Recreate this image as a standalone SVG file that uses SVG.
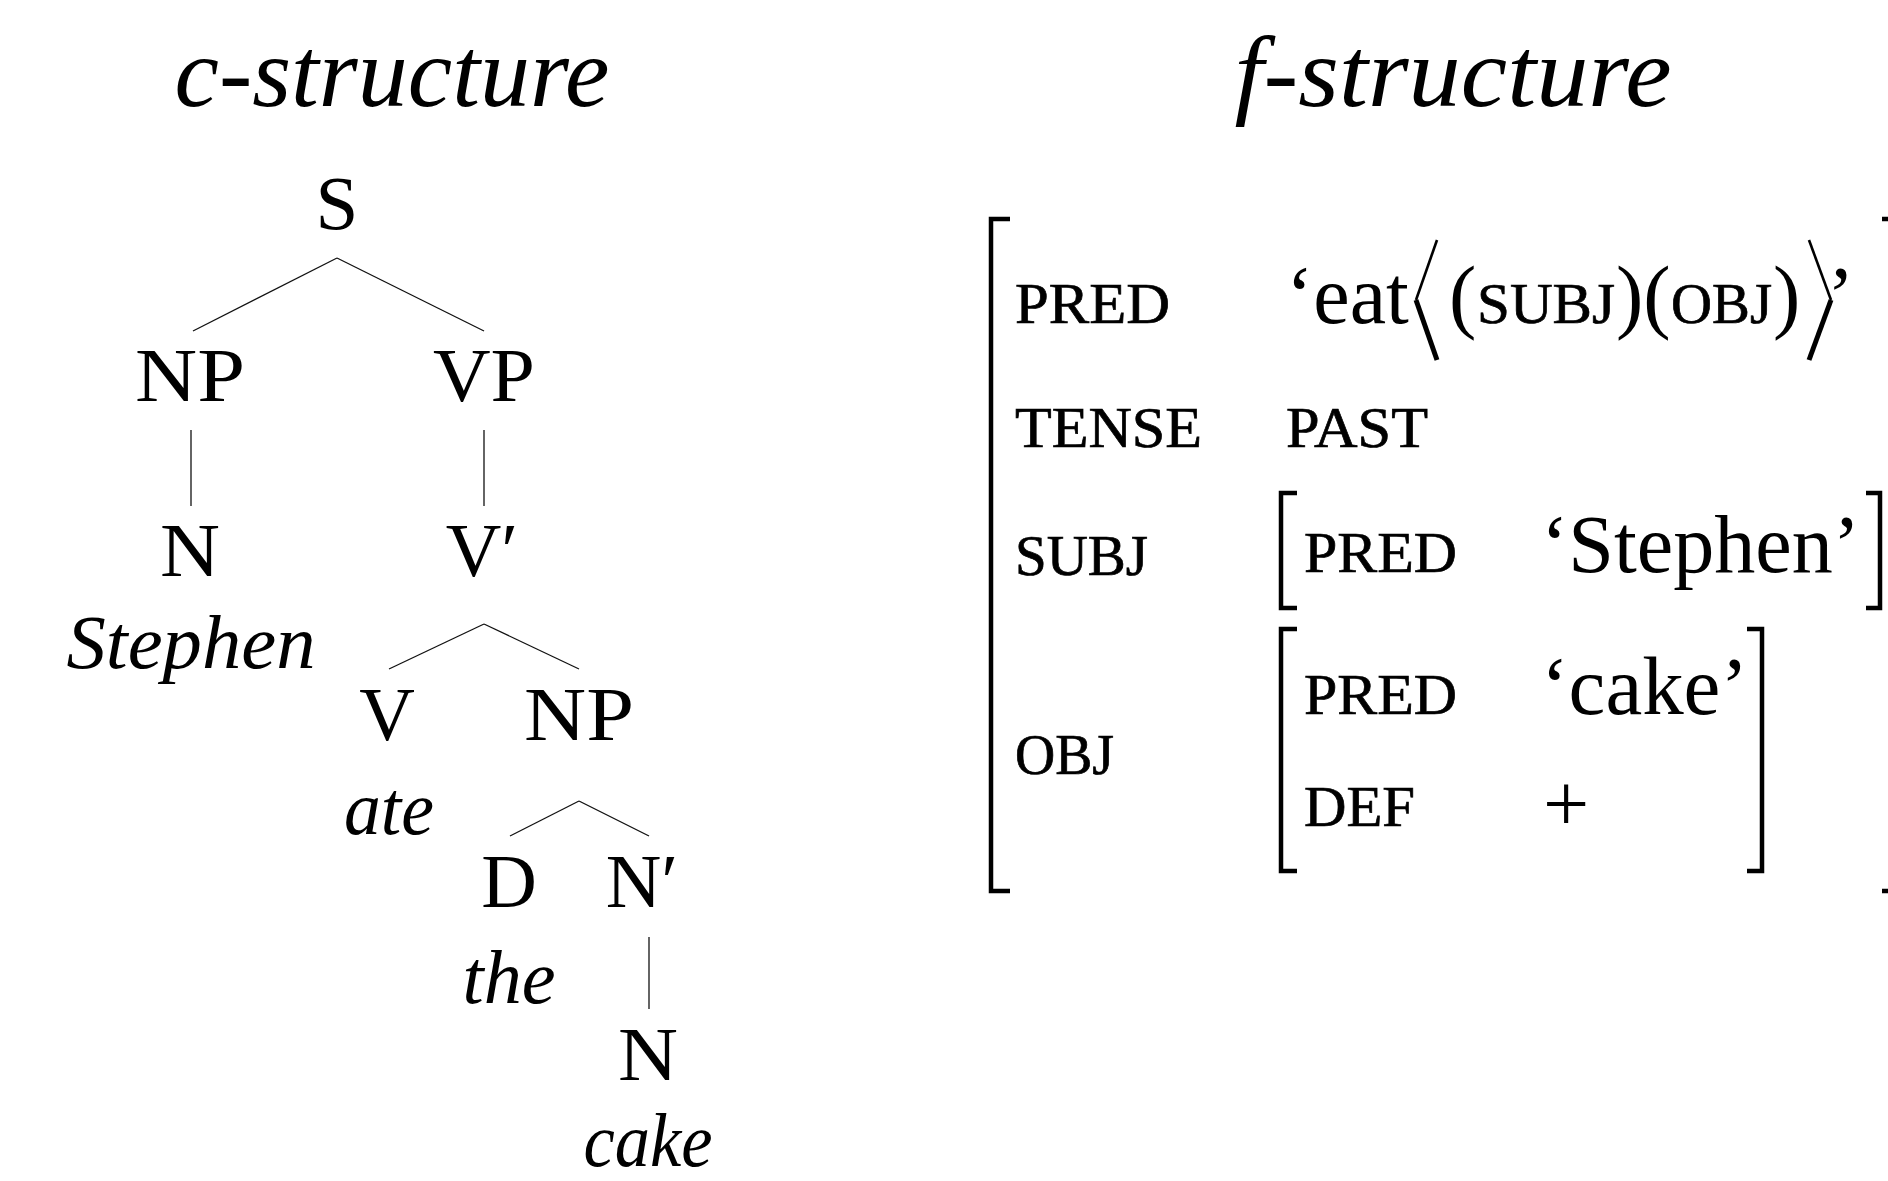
<svg xmlns="http://www.w3.org/2000/svg" width="1888" height="1181" viewBox="0 0 1888 1181">
  <style>
    text { font-family: "Liberation Serif", "Times New Roman", serif; fill: #000; }
    .title { font-size: 100px; font-style: italic; text-anchor: middle; }
    .cat { font-size: 77px; text-anchor: middle; }
    .word { font-size: 77px; font-style: italic; text-anchor: middle; }
    .sc { font-size: 56px; stroke: #000; stroke-width: 0.7; }
    .val { font-size: 82px; }
    .edge { stroke: #111; stroke-width: 1.3; fill: none; }
    .brk { stroke: #000; stroke-width: 4.5; fill: none; stroke-linejoin: miter; stroke-linecap: butt; }
    .ang { stroke: #000; fill: none; stroke-linejoin: miter; stroke-linecap: butt; }
  </style>
  <rect width="1888" height="1181" fill="#fff"/>

  <!-- headings -->
  <text class="title" x="392" y="106" textLength="435" lengthAdjust="spacingAndGlyphs">c-structure</text>
  <text class="title" x="1453" y="106" textLength="437" lengthAdjust="spacingAndGlyphs">f-structure</text>

  <!-- phrase-structure tree: branches -->
  <g id="connectors">
    <line class="edge" x1="337" y1="258" x2="193" y2="331"/>
    <line class="edge" x1="337" y1="258" x2="484" y2="331"/>
    <line class="edge" x1="191" y1="430" x2="191" y2="506"/>
    <line class="edge" x1="484" y1="430" x2="484" y2="506"/>
    <line class="edge" x1="484" y1="624" x2="389" y2="669"/>
    <line class="edge" x1="484" y1="624" x2="579" y2="669"/>
    <line class="edge" x1="579" y1="801" x2="510" y2="836"/>
    <line class="edge" x1="579" y1="801" x2="649" y2="836"/>
    <line class="edge" x1="649" y1="937" x2="649" y2="1009"/>
  </g>

  <!-- phrase-structure tree: nodes -->
  <g id="node-S"><text class="cat" x="337" y="229">S</text></g>
  <g id="node-NP-subj"><text class="cat" x="190" y="401" textLength="110" lengthAdjust="spacingAndGlyphs">NP</text></g>
  <g id="node-VP"><text class="cat" x="484" y="401" textLength="102" lengthAdjust="spacingAndGlyphs">VP</text></g>
  <g id="node-N-subj">
    <text class="cat" x="190" y="576" textLength="60" lengthAdjust="spacingAndGlyphs">N</text>
    <text class="word" x="191" y="668" textLength="249" lengthAdjust="spacingAndGlyphs">Stephen</text>
  </g>
  <g id="node-Vbar"><text class="cat" x="482" y="576">V′</text></g>
  <g id="node-V">
    <text class="cat" x="387" y="740">V</text>
    <text class="word" x="389" y="834" textLength="90" lengthAdjust="spacingAndGlyphs">ate</text>
  </g>
  <g id="node-NP-obj"><text class="cat" x="579" y="740" textLength="110" lengthAdjust="spacingAndGlyphs">NP</text></g>
  <g id="node-D">
    <text class="cat" x="509" y="907">D</text>
    <text class="word" x="509" y="1003" textLength="93" lengthAdjust="spacingAndGlyphs">the</text>
  </g>
  <g id="node-Nbar"><text class="cat" x="642" y="907">N′</text></g>
  <g id="node-N-obj">
    <text class="cat" x="648" y="1080" textLength="60" lengthAdjust="spacingAndGlyphs">N</text>
    <text class="word" x="648" y="1166" textLength="129" lengthAdjust="spacingAndGlyphs">cake</text>
  </g>

  <!-- functional structure: outer matrix -->
  <g id="fs-outer">
    <polyline class="brk" points="1010,219 991,219 991,891 1010,891"/>
    <polyline class="brk" points="1882,219 1892,219 1892,891 1882,891"/>
  </g>

  <g id="fs-pred">
    <text class="sc" x="1015" y="323" textLength="155" lengthAdjust="spacingAndGlyphs">PRED</text>
    <text class="val" x="1286" y="323">‘eat</text>
    <polyline class="ang" stroke-width="2.6" points="1437,240 1416,300"/>
    <polyline class="ang" stroke-width="5" points="1416,300 1437,360"/>
    <text class="val" x="1449" y="323">(</text>
    <text class="sc" x="1477" y="323" textLength="138" lengthAdjust="spacingAndGlyphs">SUBJ</text>
    <text class="val" x="1616" y="323">)(</text>
    <text class="sc" x="1671" y="323" textLength="101" lengthAdjust="spacingAndGlyphs">OBJ</text>
    <text class="val" x="1773" y="323">)</text>
    <polyline class="ang" stroke-width="2.6" points="1809,240 1831,300"/>
    <polyline class="ang" stroke-width="5" points="1831,300 1809,360"/>
    <text class="val" x="1827" y="323">’</text>
  </g>

  <g id="fs-tense">
    <text class="sc" x="1015" y="447" textLength="187" lengthAdjust="spacingAndGlyphs">TENSE</text>
    <text class="sc" x="1286" y="447" textLength="142" lengthAdjust="spacingAndGlyphs">PAST</text>
  </g>

  <g id="fs-subj">
    <text class="sc" x="1015" y="575" textLength="133" lengthAdjust="spacingAndGlyphs">SUBJ</text>
    <polyline class="brk" points="1297,493 1281,493 1281,608 1297,608"/>
    <text class="sc" x="1304" y="572" textLength="153" lengthAdjust="spacingAndGlyphs">PRED</text>
    <text class="val" x="1541" y="572" textLength="319" lengthAdjust="spacingAndGlyphs">‘Stephen’</text>
    <polyline class="brk" points="1866,493 1880,493 1880,608 1866,608"/>
  </g>

  <g id="fs-obj">
    <text class="sc" x="1015" y="774" textLength="99" lengthAdjust="spacingAndGlyphs">OBJ</text>
    <polyline class="brk" points="1297,629 1281,629 1281,871 1297,871"/>
    <text class="sc" x="1304" y="714" textLength="153" lengthAdjust="spacingAndGlyphs">PRED</text>
    <text class="val" x="1541" y="714" textLength="207" lengthAdjust="spacingAndGlyphs">‘cake’</text>
    <text class="sc" x="1304" y="826" textLength="111" lengthAdjust="spacingAndGlyphs">DEF</text>
    <text class="val" x="1543" y="831">+</text>
    <polyline class="brk" points="1747,629 1762,629 1762,871 1747,871"/>
  </g>
</svg>
